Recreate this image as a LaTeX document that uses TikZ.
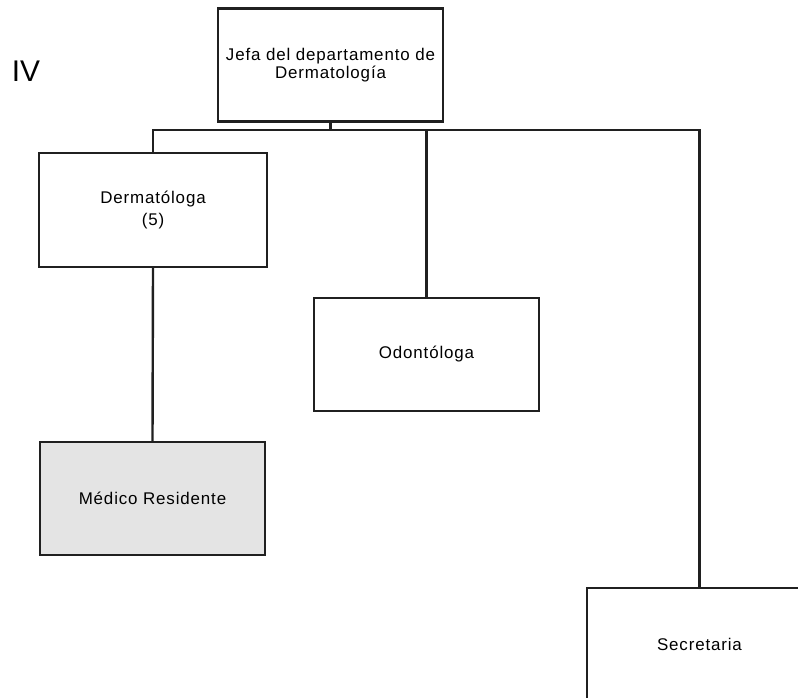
\documentclass[tikz,border=0pt]{standalone}
\usepackage{fontspec}
\setmainfont{Liberation Sans}[LetterSpace=5]
\usetikzlibrary{positioning}
\definecolor{lineclr}{HTML}{202020}
\definecolor{resfill}{HTML}{E4E4E4}

\begin{document}
\begin{tikzpicture}[x=1bp, y=-1bp, font=\fontsize{17}{18.5}\selectfont,
  box/.style={draw=lineclr, line width=2.4bp, fill=white, align=center, minimum width=225bp, minimum height=113bp, inner sep=3pt},
  res/.style={box, fill=resfill},
  conn/.style={draw=lineclr, line width=2.4bp}]
  \useasboundingbox (0,0) rectangle (798,698);
  \clip (0,0) rectangle (798,698);
  \node[font=\fontsize{30}{32}\selectfont\addfontfeature{LetterSpace=0}] (num) at (26,71) {IV};
  \node[box] (jefa) at (330.5,65) {Jefa del departamento de\\ Dermatología};
  \node[box, minimum width=228bp, minimum height=114bp] (derm) at (153,210) {Dermatóloga\\[3pt] (5)};
  \node[res] (med) at (152.5,498.5) {Médico Residente};
  \node[box] (odon) at (426.5,354.5) {Odontóloga};
  \node[box] (secr) at (699.5,644.5) {Secretaria};
  \draw[conn] (jefa.south) -- ++(0,7) coordinate (bus);
  \draw[conn] (derm.north) |- (bus) -| (secr.north);
  \draw[conn] (odon.north) |- (bus);
  \draw[conn] (derm.south) -- (med.north);
\end{tikzpicture}
\end{document}
